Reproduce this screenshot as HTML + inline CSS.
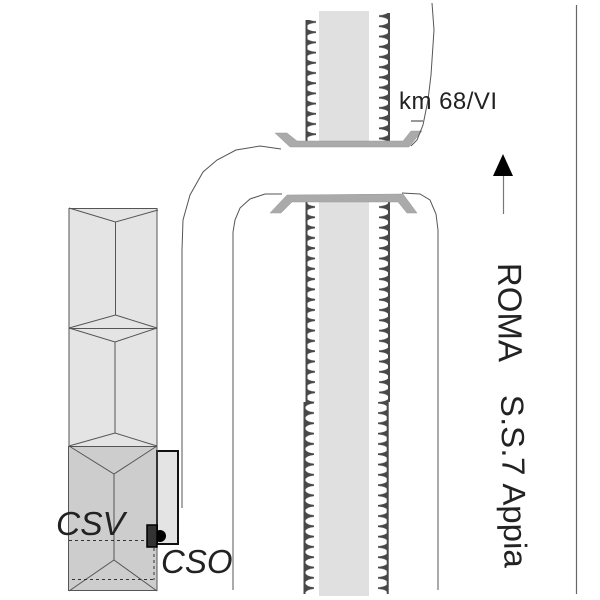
<!DOCTYPE html>
<html><head><meta charset="utf-8"><style>
html,body{margin:0;padding:0;background:#fff}
svg{display:block}
text{font-family:"Liberation Sans",sans-serif}
</style></head><body>
<svg width="600" height="600" viewBox="0 0 600 600" xmlns="http://www.w3.org/2000/svg">
<defs>
<pattern id="tl1" patternUnits="userSpaceOnUse" width="12" height="10.2" x="306" y="16.9"><path d="M0,0 Q1.5,3.8 10,4.3 L10,5.9 Q1.5,6.4 0,10.2Z" fill="#484848"/></pattern>
<pattern id="tr1" patternUnits="userSpaceOnUse" width="12" height="10.2" x="377" y="11"><path d="M12,0 Q10.5,3.8 2,4.3 L2,5.9 Q10.5,6.4 12,10.2Z" fill="#484848"/></pattern>
<pattern id="tl2" patternUnits="userSpaceOnUse" width="12" height="10.3" x="306" y="583"><path d="M0,0 Q1.5,3.8 9,4.3 L9,5.9 Q1.5,6.5 0,10.3Z" fill="#484848"/></pattern>
<pattern id="tr2" patternUnits="userSpaceOnUse" width="12" height="10.3" x="377" y="583"><path d="M12,0 Q10.5,3.8 2,4.3 L2,5.9 Q10.5,6.5 12,10.3Z" fill="#484848"/></pattern>
<pattern id="tl3" patternUnits="userSpaceOnUse" width="12" height="10.3" x="305" y="583"><path d="M0,0 Q1.5,3.8 9,4.3 L9,5.9 Q1.5,6.5 0,10.3Z" fill="#484848"/></pattern>
<pattern id="tr3" patternUnits="userSpaceOnUse" width="12" height="10.3" x="376" y="583"><path d="M12,0 Q10.5,3.8 2,4.3 L2,5.9 Q10.5,6.5 12,10.3Z" fill="#484848"/></pattern>
</defs>
<rect x="319" y="11" width="50" height="131" fill="#e0e0e0"/>
<rect x="319" y="200" width="50" height="396" fill="#e0e0e0"/>
<rect x="306" y="20" width="12" height="122" fill="url(#tl1)"/>
<rect x="377" y="13" width="12" height="129" fill="url(#tr1)"/>
<rect x="306" y="200" width="12" height="202" fill="url(#tl2)"/>
<rect x="377" y="200" width="12" height="202" fill="url(#tr2)"/>
<rect x="305" y="402" width="12" height="192" fill="url(#tl3)"/>
<rect x="376" y="402" width="12" height="192" fill="url(#tr3)"/>
<g stroke="#484848" stroke-width="2" fill="none">
<path d="M306.5,20V142"/><path d="M389,13V142"/>
<path d="M306.5,200V402"/><path d="M389,200V402"/>
<path d="M304.5,402V594"/><path d="M387.7,402V594"/>
</g>
<polygon points="275,133 287,133 297,141 403,141 411,131 422,131 409,147 290,147" fill="#aaa" stroke="#999" stroke-width=".5"/>
<polygon points="287,195 403,194 417,213 407,213 398,202 292,202 281,213 270,213" fill="#aaa" stroke="#999" stroke-width=".5"/>
<g fill="none" stroke="#555" stroke-width="1">
<polyline points="281,149 260,146 236,150 217,160 203,172 190,195 183,220 182,250 182,508"/>
<polyline points="282,194 265,194 250,199 240,208 235,220 233,232 233,590"/>
<polyline points="402,193 420,194 430,200 436,214 438,230 438,590"/>
<polyline points="432,3 434,30 431,75 428,100 423,125 417,140 411,146"/>
</g>
<path d="M576.5,5V594" stroke="#666" stroke-width="1.2"/>
<path d="M411,121H423" stroke="#777" stroke-width="1.5"/>
<rect x="69" y="208" width="88" height="120" fill="#e4e4e4"/>
<rect x="69" y="328" width="88" height="118" fill="#e4e4e4"/>
<rect x="69" y="446" width="88" height="145" fill="#cdcdcd"/>
<rect x="157" y="451" width="21" height="93" fill="#e4e4e4" stroke="#111" stroke-width="2"/>
<g fill="none" stroke="#555" stroke-width="1">
<rect x="69" y="208.5" width="88" height="120"/>
<rect x="69" y="328.5" width="88" height="118"/>
<rect x="68.5" y="446.5" width="88.5" height="144"/>
<polyline points="69,208 115.5,222 158,210"/><path d="M115.5,222V315"/>
<polyline points="69,328 115.5,315 157,328"/>
<polyline points="69,328 115,342 157,328"/><path d="M115,342V433"/>
<polyline points="69,446 115,433 157,446"/>
<polyline points="69,446 114,474 157,446"/><path d="M114,474V560"/>
<polyline points="69,591 114,560 157,591"/>
</g>
<g fill="none" stroke="#333" stroke-width="1" stroke-dasharray="3 3">
<path d="M69,540.5H147"/><path d="M72,579.5H154"/><path d="M154,548V580"/>
</g>
<circle cx="160" cy="536" r="6" fill="#000"/>
<rect x="147" y="525" width="10" height="22" fill="#333" stroke="#000" stroke-width="1.5"/>
<path d="M503.5,175V214" stroke="#777" stroke-width="1.2"/>
<polygon points="503,154 513,176 493,176" fill="#000"/>
<text x="399" y="109" font-size="24" fill="#222" textLength="98">km 68/VI</text>
<text x="56" y="535" font-size="33.5" font-style="italic" fill="#222">CSV</text>
<text x="161" y="573" font-size="33" font-style="italic" fill="#222">CSO</text>
<g transform="translate(498,263) rotate(89.5)"><text x="0" y="0" font-size="33.5" fill="#222" textLength="99" lengthAdjust="spacingAndGlyphs">ROMA</text></g>
<g transform="translate(501,395) rotate(88.8)"><text x="0" y="0" font-size="32" fill="#222" textLength="173" lengthAdjust="spacingAndGlyphs">S.S.7 Appia</text></g>
</svg>
</body></html>
